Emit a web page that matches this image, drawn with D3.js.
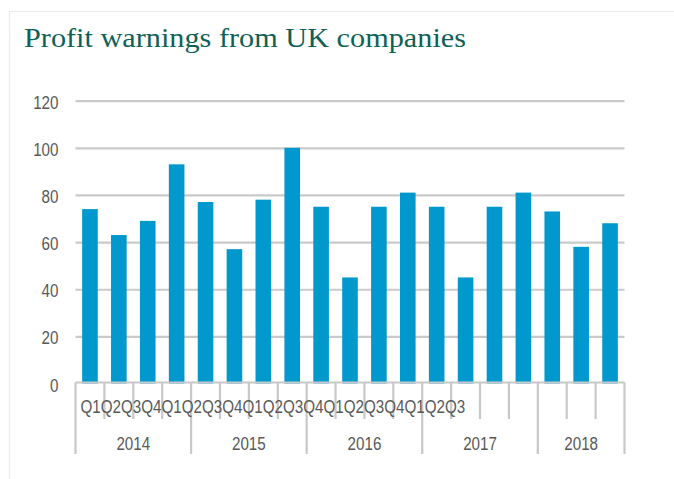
<!DOCTYPE html>
<html>
<head>
<meta charset="utf-8">
<script src="https://cdn.jsdelivr.net/npm/d3@7"></script>
<style>
  html, body { margin: 0; padding: 0; background: #fff; }
  svg { display: block; }
  .lbl { font-family: "Liberation Sans Narrow", "Arial Narrow", "Liberation Sans", sans-serif; font-size: 18px; fill: #595959; }
</style>
</head>
<body>
<svg id="chart" width="674" height="479"></svg>
<script>
// Profit warnings per quarter, 2014 Q1 – 2018 Q3
const years = ["2014", "2015", "2016", "2017", "2018"];
const quarters = ["Q1","Q2","Q3","Q4","Q1","Q2","Q3","Q4","Q1","Q2","Q3","Q4","Q1","Q2","Q3","Q4","Q1","Q2","Q3"];
const quarterYear = ["2014","2014","2014","2014","2015","2015","2015","2015","2016","2016","2016","2016","2017","2017","2017","2017","2018","2018","2018"];
const warnings = [74, 63, 69, 93, 77, 57, 78, 100, 75, 45, 75, 81, 75, 45, 75, 81, 73, 58, 68];
const yTicks = [0, 20, 40, 60, 80, 100, 120];

const svg = d3.select("#chart");
const W = 674, H = 479;

// light frame around the card
svg.append("path")
  .attr("d", `M9.5,${H} V11.5 H${W}`)
  .attr("fill", "none").attr("stroke", "#ebebeb").attr("stroke-width", 1.2);

// title
svg.append("text")
  .attr("x", 24).attr("y", 47)
  .attr("textLength", 442).attr("lengthAdjust", "spacingAndGlyphs")
  .style("font-family", "Georgia, 'Liberation Serif', 'DejaVu Serif', serif")
  .style("font-size", "28px").style("fill", "#0e6157")
  .text("Profit warnings from UK companies");

const left = 75.5, right = 624.5;
const ids = warnings.map((d, i) => i);
const x = d3.scaleBand().domain(ids).range([left, right]).paddingInner(0.46).paddingOuter(0.23);
const y = d3.scaleLinear().domain([0, 120]).range([383.5, 100.7]);

// narrow-face width factor: a run of four quarter labels is about 81px wide
const probe = svg.append("text").attr("class", "lbl").text("Q1Q2Q3Q4");
const narrow = 81 / probe.node().getComputedTextLength();
probe.remove();
function condense(sel) {
  sel.each(function () {
    const w = this.getComputedTextLength();
    d3.select(this).attr("textLength", w * narrow).attr("lengthAdjust", "spacingAndGlyphs");
  });
}

// horizontal gridlines
const grid = svg.append("g").attr("transform", `translate(${left},0)`)
  .call(d3.axisLeft(y).tickValues(yTicks.filter(v => v > 0)).tickSize(-(right - left)).tickFormat(""));
grid.select(".domain").remove();
grid.selectAll("line").attr("stroke", "#cacaca").attr("stroke-width", 2.2);

// y tick labels
svg.append("g").selectAll("text").data(yTicks).join("text")
  .attr("class", "lbl")
  .attr("x", 58.5).attr("y", d => y(d) + 8)
  .attr("text-anchor", "end")
  .text(d => d)
  .call(condense);

// bars
svg.append("g").selectAll("rect").data(warnings).join("rect")
  .attr("x", (d, i) => x(i))
  .attr("width", x.bandwidth())
  .attr("y", d => y(d))
  .attr("height", d => y(0) - y(d))
  .attr("fill", "#0198cd");

// category axis: baseline, quarter ticks and year dividers
const step = x.step();
const axisY = 382.5;
const ax = svg.append("g").attr("stroke", "#c8c8c8").attr("stroke-width", 2.2).attr("fill", "none");
ax.append("line").attr("x1", left).attr("x2", right).attr("y1", axisY).attr("y2", axisY);
const bounds = d3.range(warnings.length + 1);
ax.selectAll("line.tick").data(bounds).join("line")
  .attr("class", "tick")
  .attr("x1", i => left + i * step).attr("x2", i => left + i * step)
  .attr("y1", axisY)
  .attr("y2", i => (i === 0 || i === warnings.length || quarterYear[i] !== quarterYear[i - 1]) ? 454 : 419);

// quarter labels run together as one line
const qText = svg.append("text").attr("class", "lbl").attr("x", 80.5).attr("y", 412.5);
qText.selectAll("tspan").data(quarters).join("tspan").text(d => d);
qText.call(condense);

// year labels centred under their quarters
svg.append("g").selectAll("text").data(years).join("text")
  .attr("class", "lbl")
  .attr("text-anchor", "middle")
  .attr("x", yr => {
    const idx = quarterYear.map((q, i) => q === yr ? i : -1).filter(i => i >= 0);
    return left + (idx[0] + (idx[idx.length - 1] + 1)) / 2 * step;
  })
  .attr("y", 450)
  .text(d => d)
  .call(condense);
</script>
</body>
</html>
